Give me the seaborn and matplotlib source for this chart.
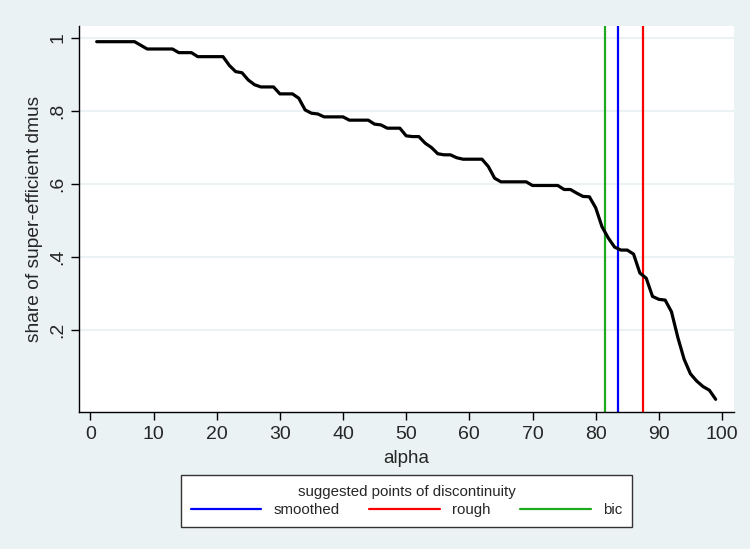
import matplotlib
matplotlib.use('Agg')
import matplotlib.pyplot as plt
import seaborn as sns
import pandas as pd
from matplotlib.lines import Line2D

alpha = list(range(1, 100))
share = [
    0.990, 0.990, 0.990, 0.990, 0.990, 0.990, 0.990, 0.980, 0.970, 0.970,
    0.970, 0.970, 0.970, 0.960, 0.960, 0.960, 0.949, 0.949, 0.949, 0.949,
    0.949, 0.925, 0.908, 0.905, 0.885, 0.872, 0.866, 0.866, 0.866, 0.847,
    0.847, 0.847, 0.835, 0.803, 0.794, 0.792, 0.784, 0.784, 0.784, 0.784,
    0.775, 0.775, 0.775, 0.775, 0.764, 0.762, 0.753, 0.753, 0.753, 0.732,
    0.730, 0.730, 0.712, 0.700, 0.683, 0.680, 0.680, 0.672, 0.668, 0.668,
    0.668, 0.668, 0.648, 0.616, 0.606, 0.606, 0.606, 0.606, 0.606, 0.596,
    0.596, 0.596, 0.596, 0.596, 0.585, 0.585, 0.575, 0.566, 0.565, 0.535,
    0.483, 0.452, 0.427, 0.419, 0.419, 0.408, 0.356, 0.342, 0.292, 0.284,
    0.282, 0.250, 0.180, 0.120, 0.080, 0.060, 0.045, 0.035, 0.010,
]

disc_labels = ["smoothed", "rough", "bic"]
disc_values = [83.5, 87.5, 81.5]
disc_colors = ["#0000FF", "#FF0000", "#1EAA1E"]

x_ticks = list(range(0, 101, 10))
y_ticks = [0.2, 0.4, 0.6, 0.8, 1.0]
y_tick_labels = [".2", ".4", ".6", ".8", "1"]

sns.set_style("white")
plt.rcParams['font.family'] = ['Liberation Sans', 'DejaVu Sans']

bg = '#EAF2F3'
fig = plt.figure(figsize=(7.5, 5.49), dpi=100, facecolor=bg)
ax = fig.add_axes([79 / 750, 137 / 549, 655 / 750, 386 / 549])
ax.set_facecolor('white')

df = pd.DataFrame({'alpha': alpha, 'share': share})
sns.lineplot(data=df, x='alpha', y='share', color='black', lw=2.3, ax=ax, zorder=3)

for v, c in zip(disc_values, disc_colors):
    ax.axvline(v, color=c, lw=1.6, zorder=2)

ax.set_xlim(-1.8, 101.9)
ax.set_ylim(-0.0247, 1.033)
ax.set_xticks(x_ticks)
ax.set_yticks(y_ticks)
ax.set_yticklabels(y_tick_labels, rotation=90, va='center')
ax.yaxis.grid(True, color=bg, lw=1.5)
ax.xaxis.grid(False)
ax.set_axisbelow(True)

for s in ['top', 'right']:
    ax.spines[s].set_visible(False)
for s in ['left', 'bottom']:
    ax.spines[s].set_color('black')
    ax.spines[s].set_linewidth(1.0)

ax.tick_params(axis='both', direction='out', length=6, width=1, color='black',
               labelsize=14, left=True, bottom=True)
ax.tick_params(axis='y', pad=3)
ax.tick_params(axis='x', pad=4)
ax.set_xlabel('alpha', fontsize=13.5, labelpad=5)
ax.set_ylabel('share of super-efficient dmus', fontsize=13.8, labelpad=5)

handles = [Line2D([0], [0], color=c, lw=1.6) for c in disc_colors]
leg = fig.legend(handles, disc_labels, ncol=3, loc='upper center',
                 bbox_to_anchor=(406.5 / 750, 1 - 475 / 549),
                 title='suggested points of discontinuity',
                 fontsize=10.8, title_fontsize=10.8, frameon=True, fancybox=False,
                 edgecolor='#333333', framealpha=1, facecolor='white',
                 handlelength=4.7, columnspacing=2.0, handletextpad=0.8,
                 borderpad=0.65, labelspacing=0.2, borderaxespad=0)
leg.get_frame().set_linewidth(1.0)
leg._legend_box.sep = 3

fig.savefig('out.png', dpi=100, facecolor=bg)
